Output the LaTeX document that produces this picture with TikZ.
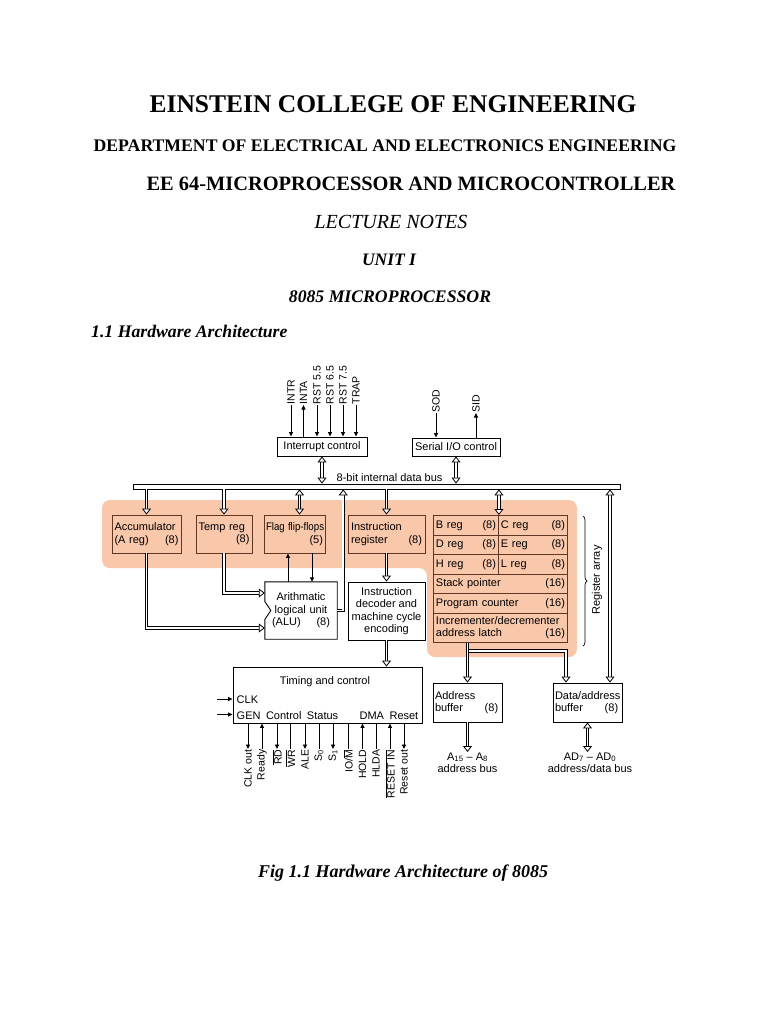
\documentclass[tikz,border=0pt]{standalone}
\usepackage{fontspec}
\setmainfont{Liberation Serif}
\newfontfamily\archfont{Liberation Sans}
\usetikzlibrary{arrows.meta,positioning,calc,decorations.pathreplacing}
\definecolor{regfill}{RGB}{249,199,170}
\definecolor{regedge}{RGB}{95,55,35}

\begin{document}
\begin{tikzpicture}[x=1pt,y=-1pt,
  pagetext/.style={anchor=base,inner sep=0pt},
  unit/.style={draw,line width=0.9pt,fill=white,inner sep=2pt,
    font=\archfont\fontsize{11}{12.5}\selectfont},
  regunit/.style={unit,draw=regedge,fill=regfill,align=left},
  plain/.style={font=\archfont\fontsize{11}{12.5}\selectfont,inner sep=0.5pt},
  pinlabel/.style={font=\archfont\fontsize{10.5}{11}\selectfont,inner sep=0.5pt,rotate=90},
  pin/.style={line width=0.9pt,-{Triangle[length=4.5pt,width=4pt]}},
  pinline/.style={line width=0.9pt},
  bus/.style={draw,line width=0.8pt,double=white,double distance=1.7pt},
  busto/.style={bus,-{Triangle[open,length=6pt,width=9pt,line width=0.8pt,fill=white]}},
  busboth/.style={bus,{Triangle[open,length=6pt,width=9pt,line width=0.8pt,fill=white]}-{Triangle[open,length=6pt,width=9pt,line width=0.8pt,fill=white]}}
]
  \fill[white] (0,0) rectangle (768,1024);
  \useasboundingbox (0,0) rectangle (768,1024);

  % headings
  \node[pagetext,font=\bfseries\fontsize{25.5}{26}\selectfont] (college) at (393,113) {EINSTEIN COLLEGE OF ENGINEERING};
  \node[pagetext,font=\bfseries\fontsize{17.7}{18}\selectfont] (dept) at (385,152) {DEPARTMENT OF ELECTRICAL AND ELECTRONICS ENGINEERING};
  \node[pagetext,font=\bfseries\fontsize{20.4}{21}\selectfont] (course) at (411,191) {EE 64-MICROPROCESSOR AND MICROCONTROLLER};
  \node[pagetext,font=\itshape\fontsize{20}{21}\selectfont] (notes) at (391,229) {LECTURE NOTES};
  \node[pagetext,font=\bfseries\itshape\fontsize{17.5}{18}\selectfont] (unit) at (389,265) {UNIT I};
  \node[pagetext,font=\bfseries\itshape\fontsize{17.7}{18}\selectfont] (topic) at (390,302) {8085 MICROPROCESSOR};
  \node[pagetext,anchor=base west,font=\bfseries\itshape\fontsize{17.7}{18}\selectfont] (sect) at (91,337) {1.1 Hardware Architecture};

  % shaded register area
  \fill[regfill,rounded corners=8] (102,500) -- (577,500) -- (577,657) -- (427,657)
    -- (427,568) -- (102,568) -- cycle;

  % interrupt and serial control
  \node[unit,minimum width=90,minimum height=19] (intctl) at (322,446.5) {Interrupt control};
  \node[unit,minimum width=88,minimum height=18] (serctl) at (456,447) {Serial I/O control};
  \node[pinlabel,anchor=west] (intr) at (291,405) {INTR};
  \node[pinlabel,anchor=west] (inta) at (303.5,405) {INTA};
  \node[pinlabel,anchor=west] (rsta) at (317,405) {RST 5.5};
  \node[pinlabel,anchor=west] (rstb) at (330,405) {RST 6.5};
  \node[pinlabel,anchor=west] (rstc) at (343,405) {RST 7.5};
  \node[pinlabel,anchor=west] (trap) at (356,405) {TRAP};
  \draw[pin] (intr.west) -- (intr.west |- intctl.north);
  \draw[pin] (inta.west |- intctl.north) -- (inta.west);
  \draw[pin] (rsta.west) -- (rsta.west |- intctl.north);
  \draw[pin] (rstb.west) -- (rstb.west |- intctl.north);
  \draw[pin] (rstc.west) -- (rstc.west |- intctl.north);
  \draw[pin] (trap.west) -- (trap.west |- intctl.north);
  \node[pinlabel,anchor=west] (sod) at (436,413) {SOD};
  \node[pinlabel,anchor=west] (sid) at (476,413) {SID};
  \draw[pin] (sod.west) -- (sod.west |- serctl.north);
  \draw[pin] (sid.west |- serctl.north) -- (sid.west);

  % internal data bus
  \node[draw,line width=0.8pt,fill=white,minimum width=487,minimum height=5,inner sep=0] (dbus) at (376.5,486.5) {};
  \node[plain,anchor=base west] (buslbl) at (336,481) {8-bit internal data bus};
  \draw[busboth] (intctl.south) -- (intctl.south |- dbus.north);
  \draw[busboth] (serctl.south) -- (serctl.south |- dbus.north);

  % registers in the shaded area
  \node[regunit,minimum width=69,minimum height=38,text width=64,inner sep=1.5pt] (acc) at (146.5,534) {Accumulator\\(A reg)\hfill(8)};
  \node[regunit,minimum width=56,minimum height=38,text width=51,inner sep=1.5pt] (temp) at (224,534) {Temp reg\\\hfill(8)};
  \node[regunit,minimum width=61,minimum height=38,text width=57,inner sep=1.5pt] (flag) at (294.5,534) {\scalebox{0.88}[1]{Flag flip-flops}\\\hfill(5)};
  \node[regunit,minimum width=77,minimum height=38,text width=71] (ir) at (386.5,534) {Instruction\\register\hfill(8)};

  \node[regunit,anchor=north west,minimum width=65,minimum height=19.5,text width=60,inner sep=1.5pt] (breg) at (433,515) {B reg\hfill(8)};
  \node[regunit,anchor=north west,minimum width=69,minimum height=19.5,text width=64,inner sep=1.5pt] (creg) at (498,515) {C reg\hfill(8)};
  \node[regunit,anchor=north west,minimum width=65,minimum height=19.5,text width=60,inner sep=1.5pt] (dreg) at (433,534.5) {D reg\hfill(8)};
  \node[regunit,anchor=north west,minimum width=69,minimum height=19.5,text width=64,inner sep=1.5pt] (ereg) at (498,534.5) {E reg\hfill(8)};
  \node[regunit,anchor=north west,minimum width=65,minimum height=19.5,text width=60,inner sep=1.5pt] (hreg) at (433,554) {H reg\hfill(8)};
  \node[regunit,anchor=north west,minimum width=69,minimum height=19.5,text width=64,inner sep=1.5pt] (lreg) at (498,554) {L reg\hfill(8)};
  \node[regunit,anchor=north west,minimum width=134,minimum height=19.5,text width=129,inner sep=1.5pt] (sp) at (433,573.5) {Stack pointer\hfill(16)};
  \node[regunit,anchor=north west,minimum width=134,minimum height=19.5,text width=129,inner sep=1.5pt] (pc) at (433,593) {Program counter\hfill(16)};
  \node[regunit,anchor=north west,minimum width=134,minimum height=29.5,text width=129,inner sep=1.5pt] (incr) at (433,612.5) {Incrementer/decrementer\\address latch\hfill(16)};

  \draw[decorate,decoration={brace,amplitude=4pt},line width=0.7pt] (583,516) -- (583,646);
  \node[plain,rotate=90] (arraylbl) at (597,580) {Register array};

  % ALU and decoder
  \node[plain,minimum width=72,minimum height=57,text width=58,align=center] (alu) at (301,610.5)
    {Arithmatic\\logical unit\\(ALU)\hfill(8)};
  \draw[line width=0.9pt] (alu.north west) -- (alu.north east) -- (alu.south east) -- (alu.south west)
    -- ([yshift=-9]alu.west) -- ([xshift=6]alu.west) -- ([yshift=9]alu.west) -- cycle;
  \node[unit,minimum width=77,minimum height=58,align=center,inner sep=1pt] (idec) at (386.5,611)
    {Instruction\\decoder and\\machine cycle\\encoding};

  % timing and control
  \node[unit,minimum width=189,minimum height=56] (tctl) at (327.5,695) {};
  \node[plain] (tctllbl) at (325,682) {Timing and control};
  \node[plain,anchor=base west] (clklbl) at (236,703.5) {CLK};
  \node[plain,anchor=base west] (genlbl) at (236,719) {GEN\enspace Control\enspace Status};
  \node[plain,anchor=base east] (dmalbl) at (419,719) {DMA\enspace Reset};
  \coordinate (clkin) at (217,699);
  \coordinate (genin) at (217,714.5);
  \draw[pin] (clkin) -- (clkin -| tctl.west);
  \draw[pin] (genin) -- (genin -| tctl.west);

  \node[pinlabel,anchor=east] (clkout) at (248,749) {CLK out};
  \node[pinlabel,anchor=east] (ready) at (262,749) {Ready};
  \node[pinlabel,anchor=east] (rd) at (277,749) {$\overline{\mbox{RD}}$};
  \node[pinlabel,anchor=east] (wr) at (290.5,749) {$\overline{\mbox{WR}}$};
  \node[pinlabel,anchor=east] (ale) at (305,749) {ALE};
  \node[pinlabel,anchor=east] (szero) at (319,749) {S\textsubscript{0}};
  \node[pinlabel,anchor=east] (sone) at (333,749) {S\textsubscript{1}};
  \node[pinlabel,anchor=east] (iom) at (348,749) {IO/$\overline{\mbox{M}}$};
  \node[pinlabel,anchor=east] (hold) at (362.5,749) {HOLD};
  \node[pinlabel,anchor=east] (hlda) at (376,749) {HLDA};
  \node[pinlabel,anchor=east] (rstin) at (390,749) {$\overline{\mbox{RESET IN}}$};
  \node[pinlabel,anchor=east] (rstout) at (404,749) {Reset out};
  \draw[pin] (tctl.south -| clkout.east) -- (clkout.east);
  \draw[pin] (ready.east) -- (tctl.south -| ready.east);
  \draw[pin] (tctl.south -| rd.east) -- (rd.east);
  \draw[pinline] (tctl.south -| wr.east) -- (wr.east);
  \draw[pin] (tctl.south -| ale.east) -- (ale.east);
  \draw[pinline] (tctl.south -| szero.east) -- (szero.east);
  \draw[pin] (tctl.south -| sone.east) -- (sone.east);
  \draw[pinline] (tctl.south -| iom.east) -- (iom.east);
  \draw[pin] (hold.east) -- (tctl.south -| hold.east);
  \draw[pinline] (tctl.south -| hlda.east) -- (hlda.east);
  \draw[pin] (rstin.east) -- (tctl.south -| rstin.east);
  \draw[pin] (tctl.south -| rstout.east) -- (rstout.east);

  % address and data buffers
  \node[unit,minimum width=69,minimum height=39,text width=65,align=left,inner sep=1pt] (addrbuf) at (467.5,702.5) {Address\\buffer\hfill(8)\,};
  \node[unit,minimum width=69,minimum height=39,text width=65,align=left,inner sep=1pt] (databuf) at (587.5,702.5) {Data/address\\buffer\hfill(8)\,};
  \node[plain,anchor=north,align=center] (abuslbl) at (467.5,752) {A\textsubscript{15} \textendash\ A\textsubscript{8}\\address bus};
  \node[plain,anchor=north,align=center] (adbuslbl) at (590,752) {AD\textsubscript{7} \textendash\ AD\textsubscript{0}\\address/data bus};

  % bus connections
  \draw[busto] (dbus.south -| acc.north) -- (acc.north);
  \draw[busto] (dbus.south -| temp.north) -- (temp.north);
  \draw[busboth] ([xshift=5]flag.north |- dbus.south) -- ([xshift=5]flag.north);
  \draw[busto] (dbus.south -| ir.north) -- (ir.north);
  \draw[busboth] (dbus.south -| breg.north east) -- (breg.north east);
  \coordinate (dbx) at (610,0);
  \draw[busboth] (dbus.south -| dbx) -- (databuf.north -| dbx);
  \draw[busto] (alu.east) -| ([xshift=6]alu.east |- dbus.south);
  \draw[busto] (acc.south) |- ([yshift=-17.5]alu.west);
  \draw[busto] (temp.south) |- ([yshift=17.5]alu.west);
  \draw[pin] ([xshift=-13]alu.north) -- ([xshift=-13]alu.north |- flag.south);
  \draw[pin] ([xshift=11]alu.north |- flag.south) -- ([xshift=11]alu.north);
  \draw[busto] (ir.south) -- (idec.north);
  \draw[busto] (idec.south) -- (idec.south |- tctl.north);
  \coordinate (dtap) at (566,651);
  \draw[busto] (addrbuf.north |- dtap) -- (dtap) -- (dtap |- databuf.north);
  \draw[busto] (incr.south -| addrbuf.north) -- (addrbuf.north);
  \draw[busto] (addrbuf.south) -- (abuslbl.north);
  \draw[busboth] (databuf.south) -- (databuf.south |- adbuslbl.north);

  % caption
  \node[pagetext,font=\bfseries\itshape\fontsize{18}{19}\selectfont] (caption) at (403,877) {Fig 1.1 Hardware Architecture of 8085};
\end{tikzpicture}
\end{document}
